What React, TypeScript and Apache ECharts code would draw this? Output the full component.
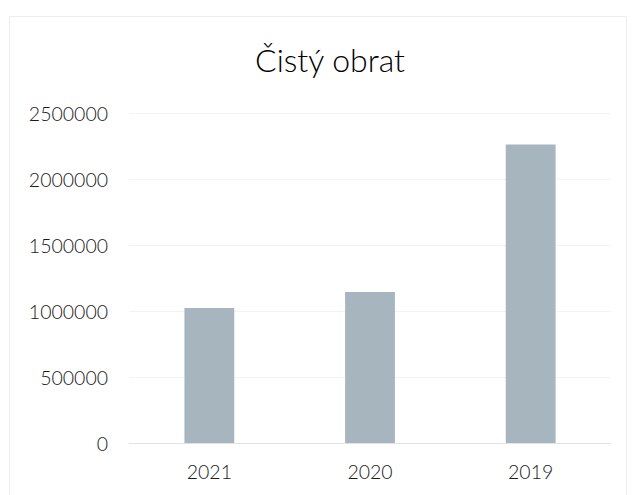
import React, { useEffect, useRef } from "react";
import * as echarts from "echarts";

const categories = ["2021", "2020", "2019"];
const values = [1022000, 1143000, 2262000];
const title = "Čistý obrat";

export default function App() {
  const ref = useRef<HTMLDivElement>(null);
  useEffect(() => {
    const chart = echarts.init(ref.current!, null, { renderer: "svg" });
    chart.setOption({
      animation: false,
      backgroundColor: "#ffffff",
      graphic: [
        {
          type: "rect",
          shape: { x: 9.5, y: 16.5, width: 617, height: 500 },
          style: { fill: "none", stroke: "#eeeeee", lineWidth: 1 },
          silent: true,
          z: -10,
        },
      ],
      title: {
        text: title,
        left: 325,
        textAlign: "center",
        top: 38,
        textStyle: { fontFamily: "Lato", fontSize: 32, fontWeight: 300, color: "#000000" },
      },
      grid: { left: 129, right: 22, top: 113, bottom: 52, containLabel: false },
      xAxis: {
        type: "category",
        data: categories,
        axisLine: { show: true, lineStyle: { color: "#e2e2e2" } },
        axisTick: { show: false },
        axisLabel: { fontFamily: "Lato", fontSize: 19.5, fontWeight: 300, color: "#1a1a1a", margin: 18 },
      },
      yAxis: {
        type: "value",
        min: 0,
        max: 2500000,
        interval: 500000,
        axisLine: { show: false },
        axisTick: { show: false },
        splitLine: { lineStyle: { color: "#f3f3f3" } },
        axisLabel: {
          fontFamily: "Lato",
          fontSize: 19.5,
          fontWeight: 300,
          color: "#1a1a1a",
          margin: 21,
          formatter: (v: number) => String(v),
        },
      },
      series: [
        {
          type: "bar",
          data: values,
          barWidth: "31%",
          itemStyle: { color: "#a7b5bf" },
        },
      ],
    });
    return () => chart.dispose();
  }, []);
  return (
    <div
      ref={ref}
      style={{ position: "fixed", left: 0, top: 0, width: 633, height: 495 }}
    />
  );
}
